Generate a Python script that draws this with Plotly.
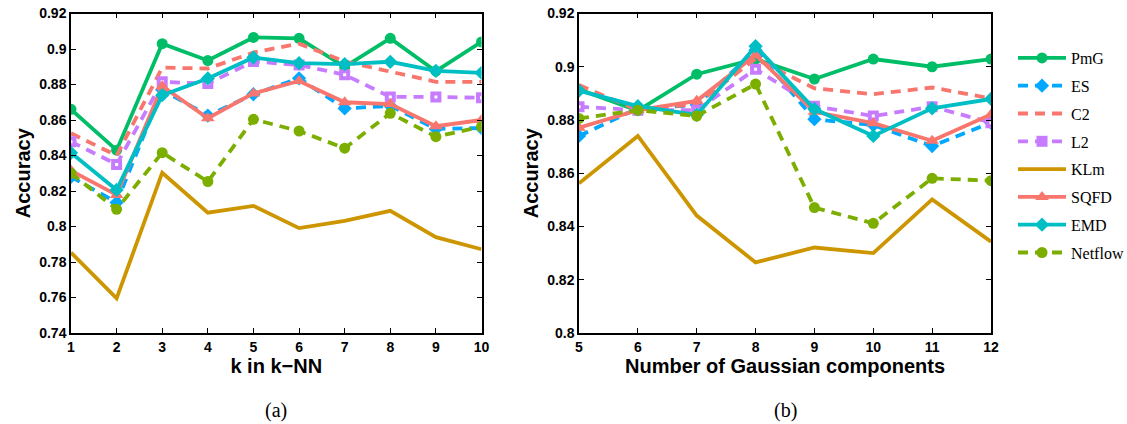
import plotly.graph_objects as go

# ---------------- data ----------------
k_values = [1, 2, 3, 4, 5, 6, 7, 8, 9, 10]
gauss_components = [5, 6, 7, 8, 9, 10, 11, 12]

series_names = ["PmG", "ES", "C2", "L2", "KLm", "SQFD", "EMD", "Netflow"]

# (a) accuracy vs k in k-NN
a_PmG = [0.866, 0.843, 0.903, 0.8935, 0.9065, 0.906, 0.890, 0.906, 0.8875, 0.904]
a_ES = [0.828, 0.8135, 0.877, 0.8625, 0.8745, 0.8835, 0.8665, 0.868, 0.855, 0.8555]
a_C2 = [0.8525, 0.840, 0.8895, 0.889, 0.898, 0.903, 0.893, 0.8875, 0.8815, 0.8815]
a_L2 = [0.8478, 0.835, 0.8815, 0.8805, 0.893, 0.891, 0.8855, 0.873, 0.873, 0.8725]
a_KLm = [0.7853, 0.7595, 0.8303, 0.8078, 0.8116, 0.7991, 0.8032, 0.8088, 0.794, 0.7872]
a_SQFD = [0.8315, 0.8178, 0.879, 0.861, 0.875, 0.882, 0.870, 0.869, 0.8565, 0.860]
a_EMD = [0.8415, 0.8206, 0.874, 0.8834, 0.8952, 0.892, 0.8915, 0.8928, 0.8877, 0.8866]
a_Netflow = [0.830, 0.8097, 0.8416, 0.8253, 0.8604, 0.8538, 0.8441, 0.8638, 0.8506, 0.8562]

# (b) accuracy vs number of Gaussian components
b_PmG = [0.8915, 0.8835, 0.8972, 0.9029, 0.8954, 0.9029, 0.900, 0.9029]
b_ES = [0.874, 0.8844, 0.8856, 0.9062, 0.8803, 0.8781, 0.8702, 0.879]
b_C2 = [0.8931, 0.8837, 0.886, 0.903, 0.8919, 0.8897, 0.8922, 0.8881]
b_L2 = [0.885, 0.8837, 0.8837, 0.8991, 0.8852, 0.8815, 0.885, 0.879]
b_KLm = [0.8562, 0.874, 0.8441, 0.8265, 0.8321, 0.830, 0.8502, 0.8343]
b_SQFD = [0.8771, 0.8837, 0.8872, 0.9044, 0.8831, 0.8788, 0.8722, 0.8821]
b_EMD = [0.891, 0.8852, 0.8819, 0.9077, 0.8841, 0.874, 0.8844, 0.8879]
b_Netflow = [0.8806, 0.8837, 0.8815, 0.8935, 0.8471, 0.8412, 0.8581, 0.8572]

a_yticks = [0.74, 0.76, 0.78, 0.80, 0.82, 0.84, 0.86, 0.88, 0.90, 0.92]
a_yticktext = ["0.74", "0.76", "0.78", "0.8", "0.82", "0.84", "0.86", "0.88", "0.9", "0.92"]
b_yticks = [0.80, 0.82, 0.84, 0.86, 0.88, 0.90, 0.92]
b_yticktext = ["0.8", "0.82", "0.84", "0.86", "0.88", "0.9", "0.92"]

# ---------------- styles ----------------
styles = {
    "PmG": dict(color="#00BE67", dash="solid", symbol="circle"),
    "ES": dict(color="#00A9FF", dash="10px,7px", symbol="diamond"),
    "C2": dict(color="#F8766D", dash="10px,7px", symbol=None),
    "L2": dict(color="#C77CFF", dash="10px,7px", symbol="square"),
    "KLm": dict(color="#CD9600", dash="solid", symbol=None),
    "SQFD": dict(color="#F8766D", dash="solid", symbol="triangle-up"),
    "EMD": dict(color="#00BFC4", dash="solid", symbol="diamond"),
    "Netflow": dict(color="#7CAE00", dash="10px,7px", symbol="circle"),
}

a_data = dict(PmG=a_PmG, ES=a_ES, C2=a_C2, L2=a_L2, KLm=a_KLm, SQFD=a_SQFD, EMD=a_EMD, Netflow=a_Netflow)
b_data = dict(PmG=b_PmG, ES=b_ES, C2=b_C2, L2=b_L2, KLm=b_KLm, SQFD=b_SQFD, EMD=b_EMD, Netflow=b_Netflow)

fig = go.Figure()


def add_series(xs, data, xaxis, yaxis, show):
    for name in series_names:
        st = styles[name]
        mode = "lines+markers" if st["symbol"] else "lines"
        marker = dict(symbol=st["symbol"], size=11 if st["symbol"] != "triangle-up" else 12,
                      color=st["color"], line=dict(width=0)) if st["symbol"] else None
        fig.add_trace(go.Scatter(
            x=xs, y=data[name], name=name, mode=mode,
            line=dict(color=st["color"], width=3.8, dash=st["dash"]),
            marker=marker, xaxis=xaxis, yaxis=yaxis,
            showlegend=show, legendgroup=name,
        ))
        if name == "L2":
            fig.add_trace(go.Scatter(
                x=xs, y=data[name], mode="markers",
                marker=dict(symbol="square", size=3, color="white"),
                xaxis=xaxis, yaxis=yaxis, showlegend=False, legendgroup=name,
                hoverinfo="skip",
            ))


add_series(k_values, a_data, "x", "y", True)
add_series(gauss_components, b_data, "x2", "y2", False)


def bold(labels):
    return ["<b>%s</b>" % s for s in labels]


tickfont = dict(family="Liberation Sans", size=14, color="black")
titlefont = dict(family="Liberation Sans", size=20, color="black")
common_axis = dict(showline=True, mirror="ticks", linecolor="black", linewidth=1.5,
                   ticks="inside", ticklen=5, tickwidth=1, tickcolor="black",
                   showgrid=False, zeroline=False, tickfont=tickfont, automargin=False)

W, H = 1127, 424
fig.update_layout(
    width=W, height=H,
    margin=dict(l=0, r=0, t=0, b=0, autoexpand=False),
    paper_bgcolor="white", plot_bgcolor="white",
    xaxis=dict(domain=[71 / W, 481.5 / W], range=[1, 10], tickvals=k_values,
               ticktext=bold([str(v) for v in k_values]),
               title=dict(text="<b>k in k\u2212NN</b>", font=titlefont, standoff=2),
               anchor="y", **common_axis),
    yaxis=dict(domain=[1 - 333 / H, 1 - 13.5 / H], range=[0.74, 0.92],
               tickvals=a_yticks, ticktext=bold(a_yticktext),
               title=dict(text="<b>Accuracy</b>", font=titlefont, standoff=3),
               anchor="x", **common_axis),
    xaxis2=dict(domain=[579 / W, 991 / W], range=[5, 12], tickvals=gauss_components,
                ticktext=bold([str(v) for v in gauss_components]),
                title=dict(text="<b>Number of Gaussian components</b>", font=titlefont, standoff=2),
                anchor="y2", **common_axis),
    yaxis2=dict(domain=[1 - 333 / H, 1 - 13.5 / H], range=[0.80, 0.92],
                tickvals=b_yticks, ticktext=bold(b_yticktext),
                title=dict(text="<b>Accuracy</b>", font=titlefont, standoff=3),
                anchor="x2", **common_axis),
    legend=dict(x=1013 / W, y=1 - 41 / H, xanchor="left", yanchor="top",
                font=dict(family="Liberation Serif", size=16, color="black"),
                bgcolor="rgba(0,0,0,0)", borderwidth=0, tracegroupgap=4,
                itemwidth=48),
    annotations=[
        dict(text="(a)", x=276 / W, y=1 - 410 / H, xref="paper", yref="paper",
             xanchor="center", yanchor="middle",
             showarrow=False, font=dict(family="Liberation Serif", size=20, color="black")),
        dict(text="(b)", x=785 / W, y=1 - 410 / H, xref="paper", yref="paper",
             xanchor="center", yanchor="middle",
             showarrow=False, font=dict(family="Liberation Serif", size=20, color="black")),
    ],
)

fig.write_html("out.html", config={"displayModeBar": False},
               post_script="document.body.style.margin='0';")
